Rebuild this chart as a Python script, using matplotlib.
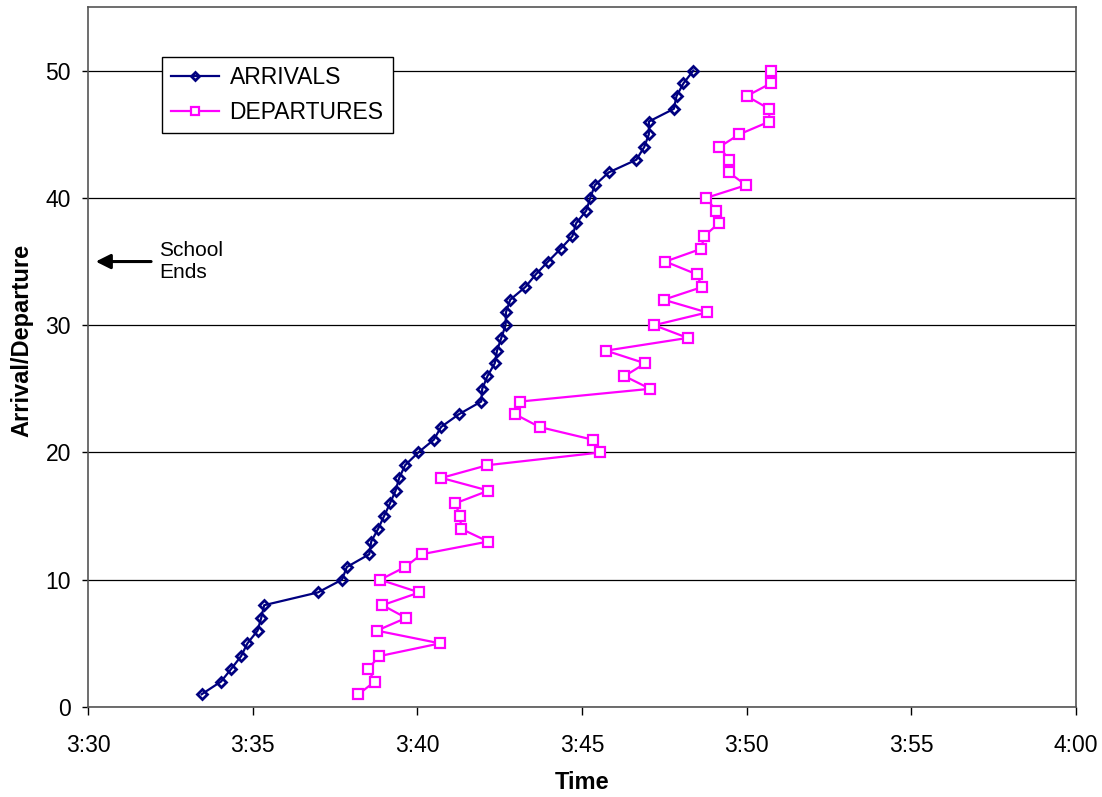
import numpy as np
import matplotlib
matplotlib.use('Agg')
import matplotlib.pyplot as plt
from matplotlib.ticker import FuncFormatter, MultipleLocator

plt.rcParams['font.family'] = ['Liberation Sans', 'DejaVu Sans']

# minutes after 3:00
arrivals = [33.45, 34.04, 34.35, 34.65, 34.84, 35.15, 35.26, 35.35, 36.98, 37.71,
            37.86, 38.54, 38.60, 38.81, 38.99, 39.17, 39.34, 39.45, 39.63, 40.03,
            40.50, 40.72, 41.26, 41.94, 41.97, 42.13, 42.35, 42.42, 42.55, 42.68,
            42.69, 42.82, 43.28, 43.60, 43.97, 44.35, 44.71, 44.82, 45.13, 45.25,
            45.39, 45.81, 46.65, 46.89, 47.03, 47.03, 47.79, 47.87, 48.08, 48.38]
departures = [38.21, 38.71, 38.50, 38.85, 40.69, 38.77, 39.66, 38.94, 40.06, 38.87,
              39.63, 40.13, 42.15, 41.33, 41.30, 41.15, 42.16, 40.73, 42.13, 45.56,
              45.33, 43.71, 42.97, 43.12, 47.07, 46.29, 46.92, 45.73, 48.21, 47.19,
              48.80, 47.48, 48.65, 48.48, 47.53, 48.62, 48.71, 49.15, 49.07, 48.77,
              49.98, 49.46, 49.47, 49.17, 49.78, 50.69, 50.68, 50.00, 50.73, 50.75]
counts = np.arange(1, len(arrivals) + 1)


def fmt_time(m, pos):
    h = 3 + int(m // 60)
    return f'{h}:{int(round(m % 60)):02d}'


fig = plt.figure(figsize=(11.02, 7.97), dpi=100)
ax = fig.add_axes([88 / 1102, 90 / 797, 988 / 1102, 700 / 797])

ax.plot(arrivals, counts, color='#000080', lw=1.6, marker='D', ms=5,
        mfc='none', mec='#000080', mew=2, label='ARRIVALS', zorder=3)
ax.plot(departures, counts, color='#FF00FF', lw=1.6, marker='s', ms=7,
        mfc='white', mec='#FF00FF', mew=1.6, label='DEPARTURES', zorder=3)

ax.set_xlim(30, 60)
ax.set_ylim(0, 55)
ax.xaxis.set_major_locator(MultipleLocator(5))
ax.xaxis.set_major_formatter(FuncFormatter(fmt_time))
ax.set_yticks([0, 10, 20, 30, 40, 50])
ax.grid(axis='y', color='black', lw=0.9)
ax.set_axisbelow(True)
ax.tick_params(direction='out', width=1, labelsize=16.5)
ax.tick_params(axis='x', length=5.8, pad=14)
ax.tick_params(axis='y', length=4.3, pad=8)
for s in ax.spines.values():
    s.set_linewidth(1.2)
    s.set_color('#555555')

ax.set_xlabel('Time', fontsize=17, fontweight='bold', labelpad=10)
ax.set_ylabel('Arrival/Departure', fontsize=17, fontweight='bold')
ax.yaxis.set_label_coords(-0.055, 0.523)

ax.annotate('', xy=(30.15, 35), xytext=(32.0, 35),
            arrowprops=dict(arrowstyle='-|>', color='black', lw=2.2,
                            mutation_scale=22))
ax.text(32.15, 35, 'School\nEnds', fontsize=15, va='center', ha='left',
        linespacing=1.2)

leg = ax.legend(loc='upper left', bbox_to_anchor=(74 / 988, 650 / 700),
                fontsize=16.5, frameon=True, fancybox=False, borderpad=0.4,
                handlelength=2.1, handletextpad=0.45, labelspacing=0.5,
                borderaxespad=0, markerscale=0.8)
leg.get_frame().set_edgecolor('black')
leg.get_frame().set_linewidth(1)
leg.get_frame().set_alpha(1)

fig.savefig('out.png', dpi=100)
